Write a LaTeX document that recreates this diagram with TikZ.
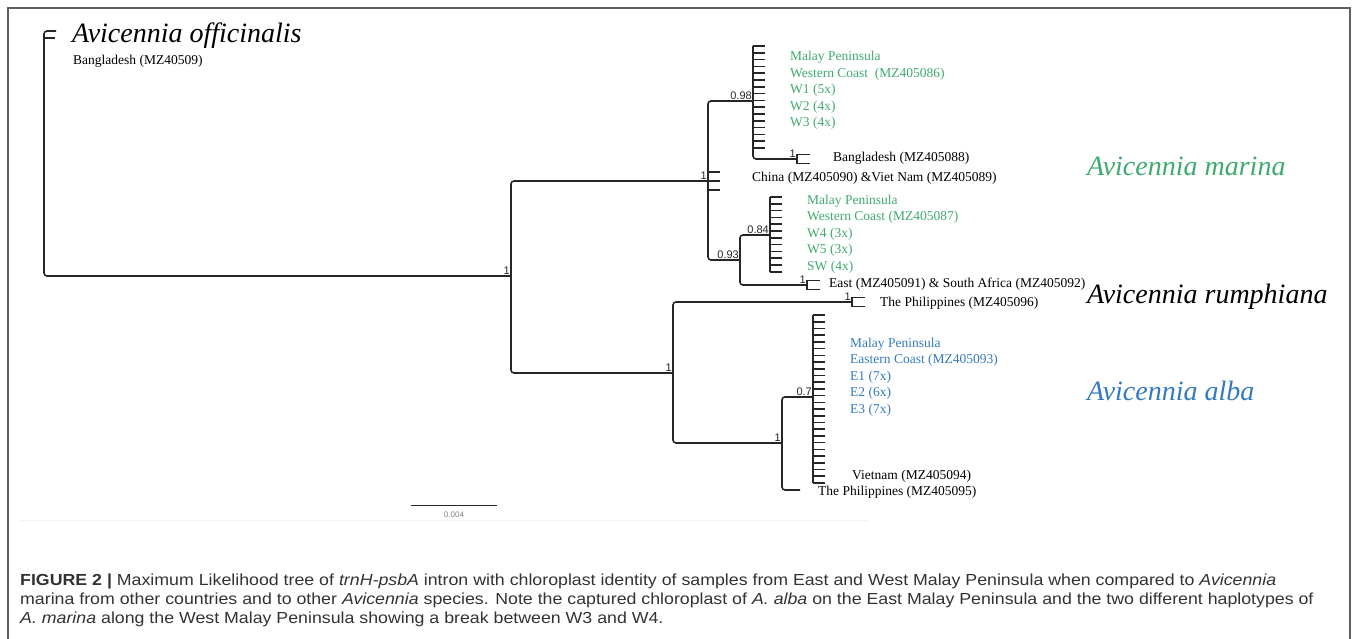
\documentclass[tikz,border=0pt]{standalone}
\usepackage{fontspec}
\setmainfont{Liberation Serif}
\setsansfont{Liberation Sans}
\newfontfamily\captionfont[FakeStretch=1.11]{Liberation Sans}
\usetikzlibrary{positioning,calc}
\definecolor{marinagreen}{RGB}{62,170,110}
\definecolor{albablue}{RGB}{52,122,192}
\definecolor{branchgray}{RGB}{38,38,38}
\definecolor{captiongray}{RGB}{50,50,50}
\definecolor{framegray}{RGB}{95,95,95}
\tikzset{
  branch/.style={draw=branchgray, line width=1.6pt, rounded corners=3pt},
  tick/.style={draw=branchgray, line width=1.6pt},
  leaf/.style={anchor=west, inner sep=0pt, align=left, font=\fontsize{13.5}{16.4}\selectfont},
  support/.style={anchor=south east, inner sep=1pt, text=branchgray, font=\sffamily\fontsize{11}{11}\selectfont},
  species/.style={anchor=west, inner sep=0pt, font=\itshape\fontsize{28}{30}\selectfont},
  caption/.style={anchor=west, inner sep=0pt, align=left, text=captiongray, font=\captionfont\fontsize{16}{19}\selectfont},
}
% small closed leaf pair, drawn right of a node
\newcommand{\leafpair}[1]{\draw[tick] ($(#1)+(13,-4.5)$) -- ($(#1)+(0,-4.5)$) -- ($(#1)+(0,4.5)$) -- ($(#1)+(13,4.5)$);}

\begin{document}
\begin{tikzpicture}[x=1pt, y=-1pt]
  \useasboundingbox (0,0) rectangle (1357,639);
  \draw[framegray, line width=1.2pt] (8,639) -- (8,8) -- (1350,8) -- (1350,639);
  \draw[gray!10, line width=1pt] (20,520) -- (868,520);

  % inner nodes of the tree
  \coordinate (Offic) at (44,31);
  \coordinate (Core) at (511,276);
  \coordinate (Marina) at (708,181);
  \coordinate (WestTop) at (753,46);
  \coordinate (West98) at (753,101);
  \coordinate (Bangla) at (797,159);
  \coordinate (Marina93) at (740,260);
  \coordinate (West84) at (770,235);
  \coordinate (EastSA) at (807,285);
  \coordinate (Alba) at (673,373);
  \coordinate (Rumph) at (852,302);
  \coordinate (Alba1) at (782,443);
  \coordinate (East07) at (813,397);
  \coordinate (Phil95) at (800,490);

  % branches
  \draw[branch] ($(Offic)+(12,0)$) -- (Offic) |- (Core);
  \draw[tick] (44,38) -- ++(11,0);
  \draw[branch] (Marina) -| (Core) |- (Alba);
  \draw[branch] (West98) -| (Marina) |- (Marina93);
  \draw[branch] (WestTop) |- (Bangla);
  \draw[branch] (West84) -| (Marina93) |- (EastSA);
  \draw[branch] (Rumph) -| (Alba) |- (Alba1);
  \draw[branch] (East07) -| (Alba1) |- (Phil95);
  \draw[tick] (East07 |- 0,315) -- (East07 |- 0,483);
  \draw[tick] (West84 |- 0,197) -- (West84 |- 0,272);

  % combs of identical samples
  \foreach \i in {0,...,15} \draw[tick] ($(WestTop)+(0,6.8*\i)$) -- ++(12,0);
  \foreach \i in {0,...,11} \draw[tick] (770,197+6.8*\i) -- ++(12,0);
  \foreach \i in {0,...,25} \draw[tick] (813,315+6.72*\i) -- ++(12,0);
  \foreach \y in {-9,0,9} \draw[tick] ($(Marina)+(0,\y)$) -- ++(12,0);
  \leafpair{Bangla}
  \leafpair{EastSA}
  \leafpair{Rumph}

  % support values
  \node[support] at (Core) {1};
  \node[support] at (Marina) {1};
  \node[support] at (West98) {0.98};
  \node[support] at (Bangla) {1};
  \node[support] at (Marina93) {0.93};
  \node[support] at (West84) {0.84};
  \node[support] at (EastSA) {1};
  \node[support] at (Rumph) {1};
  \node[support] at (Alba) {1};
  \node[support] at (Alba1) {1};
  \node[support] at (East07) {0.7};

  % leaf labels
  \node[species] (OfficName) at (72,36) {Avicennia officinalis};
  \node[leaf] (OfficLeaf) at (73,61) {Bangladesh (MZ40509)};
  \node[leaf, text=marinagreen] (WestA) at (790,90.5) {Malay Peninsula\\Western Coast\ \ (MZ405086)\\W1 (5x)\\W2 (4x)\\W3 (4x)};
  \node[leaf] (BanglaLeaf) at (833,158) {Bangladesh (MZ405088)};
  \node[leaf] (ChinaLeaf) at (752,178) {China (MZ405090) \&Viet Nam (MZ405089)};
  \node[leaf, text=marinagreen] (WestB) at (807,234) {Malay Peninsula\\Western Coast (MZ405087)\\W4 (3x)\\W5 (3x)\\SW (4x)};
  \node[leaf] (EastLeaf) at (829,284) {East (MZ405091) \& South Africa (MZ405092)};
  \node[leaf] (RumphLeaf) at (880,303) {The Philippines (MZ405096)};
  \node[leaf, text=albablue] (EastCoast) at (850,377) {Malay Peninsula\\Eastern Coast (MZ405093)\\E1 (7x)\\E2 (6x)\\E3 (7x)};
  \node[leaf] (VietLeaf) at (852,476) {Vietnam (MZ405094)};
  \node[leaf] (PhilLeaf) at (818,492) {The Philippines (MZ405095)};

  % species names
  \node[species, text=marinagreen] (MarinaName) at (1087,166) {Avicennia marina};
  \node[species] (RumphName) at (1087,297) {Avicennia rumphiana};
  \node[species, text=albablue] (AlbaName) at (1087,391) {Avicennia alba};

  % scale bar
  \coordinate (BarL) at (411,505);
  \coordinate (BarR) at (497,505);
  \draw[branchgray, line width=0.8pt] (BarL) -- (BarR);
  \node[inner sep=0pt, text=gray, font=\sffamily\fontsize{8}{8}\selectfont] (BarText) at (454,515) {0.004};

  % caption
  \node[caption] (Caption) at (20,600) {\textbf{FIGURE 2 |} Maximum Likelihood tree of \textit{trnH-psbA} intron with chloroplast identity of samples from East and West Malay Peninsula when compared to \textit{Avicennia}\\
marina from other countries and to other \textit{Avicennia} species. Note the captured chloroplast of \textit{A. alba} on the East Malay Peninsula and the two different haplotypes of\\
\textit{A. marina} along the West Malay Peninsula showing a break between W3 and W4.};
\end{tikzpicture}
\end{document}
